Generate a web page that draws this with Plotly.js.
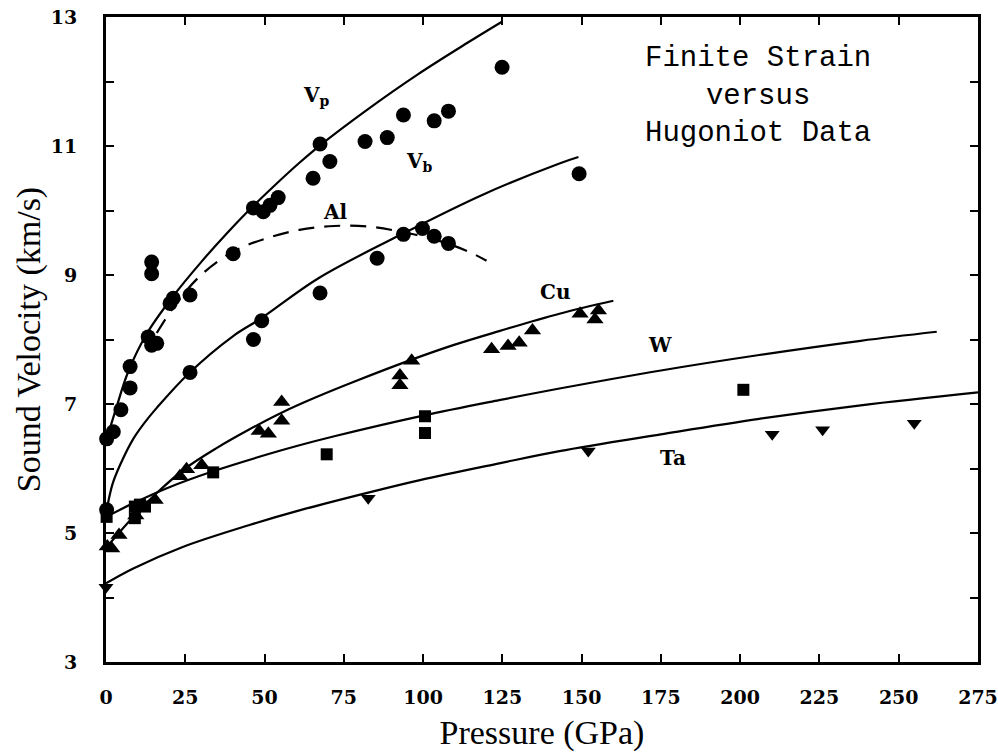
<!DOCTYPE html>
<html>
<head>
<meta charset="utf-8">
<script src="https://cdn.plot.ly/plotly-3.0.1.min.js"></script>
<style>html,body{margin:0;padding:0;background:#fff;}#chart{width:998px;height:756px;}</style>
</head>
<body>
<div id="chart"></div>
<script>
// ---- Finite strain curves (Pressure GPa, velocity km/s) ----
const vpCurveP = [0, 3, 7, 13, 21, 30, 38, 45, 53, 61, 68, 82, 98, 114, 125];
const vpCurveV = [6.42, 6.9, 7.5, 8.1, 8.66, 9.2, 9.64, 10.0, 10.38, 10.74, 11.03, 11.55, 12.1, 12.6, 12.93];

const vbCurveP = [0, 2, 4.4, 8.6, 12, 16, 26, 40, 49, 67, 94, 119, 143, 149];
const vbCurveV = [5.3, 5.75, 6.05, 6.46, 6.7, 6.94, 7.47, 8.05, 8.33, 8.95, 9.65, 10.25, 10.73, 10.83];

const alHugP = [16, 22, 30, 40, 50, 61, 72, 83, 93, 103, 114, 120];
const alHugV = [8.1, 8.55, 9.0, 9.36, 9.56, 9.7, 9.76, 9.75, 9.67, 9.56, 9.37, 9.22];

const cuCurveP = [0, 4.4, 10.7, 16, 25, 35, 45, 56, 66, 79, 96, 110, 124, 143, 160];
const cuCurveV = [4.77, 5.02, 5.36, 5.62, 6.0, 6.32, 6.6, 6.88, 7.1, 7.36, 7.68, 7.92, 8.13, 8.4, 8.6];

const wCurveP = [0, 8.6, 19, 34, 51, 61, 72, 100, 124, 143, 175, 206, 238, 262];
const wCurveV = [5.25, 5.46, 5.69, 5.96, 6.22, 6.36, 6.5, 6.82, 7.06, 7.24, 7.52, 7.76, 7.98, 8.12];

const taCurveP = [0, 8.6, 24, 45, 61, 83, 99, 124, 143, 175, 206, 238, 275];
const taCurveV = [4.22, 4.45, 4.78, 5.12, 5.35, 5.63, 5.82, 6.08, 6.27, 6.53, 6.77, 6.98, 7.18];

// ---- Hugoniot data points ----
const alDataP = [0.2, 2.3, 4.7, 7.6, 7.6, 13.3, 16.0, 14.4, 20.2, 21.2, 26.5, 14.4, 14.4, 40.1, 46.5, 49.6, 51.7, 54.3, 65.3, 70.6, 67.5, 81.7, 88.7, 93.8, 103.5, 108, 124.9, 149.2,
                 0.2, 26.5, 46.5, 49.1, 67.5, 85.5, 93.8, 99.8, 103.5, 108];
const alDataV = [6.46, 6.57, 6.91, 7.25, 7.58, 8.04, 7.94, 7.91, 8.56, 8.64, 8.69, 9.2, 9.02, 9.33, 10.04, 9.98, 10.08, 10.2, 10.5, 10.76, 11.03, 11.07, 11.13, 11.48, 11.39, 11.54, 12.22, 10.57,
                 5.36, 7.49, 8.0, 8.29, 8.72, 9.26, 9.63, 9.72, 9.6, 9.49];

const cuDataP = [0.4, 1.8, 4.1, 9.4, 15.5, 23.3, 25.4, 30.2, 48.3, 51.2, 55.4, 55.4, 92.7, 92.7, 96.4, 121.6, 126.8, 130.3, 134.5, 149.5, 155.3, 154.2];
const cuDataV = [4.79, 4.76, 4.97, 5.27, 5.51, 5.88, 5.99, 6.05, 6.58, 6.54, 6.74, 7.03, 7.29, 7.44, 7.67, 7.85, 7.9, 7.95, 8.14, 8.4, 8.45, 8.31];

const wDataP = [0.2, 9.1, 10.7, 9.1, 12.3, 33.8, 69.6, 100.6, 100.6, 201];
const wDataV = [5.25, 5.41, 5.44, 5.23, 5.41, 5.94, 6.22, 6.81, 6.55, 7.22];

const taDataP = [0, 82.7, 152.1, 210.1, 226, 254.9];
const taDataV = [4.16, 5.54, 6.27, 6.53, 6.6, 6.7];

// ---- Axis ticks and labels ----
const xTicks = [0, 25, 50, 75, 100, 125, 150, 175, 200, 225, 250, 275];
const yTicks = [3, 5, 7, 9, 11, 13];
const titleText = 'Finite Strain<br>versus<br>Hugoniot Data';
const curveLabels = ['V<sub>p</sub>', 'Al', 'V<sub>b</sub>', 'Cu', 'W', 'Ta'];
const curveLabelP = [66.5, 72.5, 99, 141.6, 174.7, 178.8];
const curveLabelV = [11.78, 9.98, 10.75, 8.74, 7.92, 6.16];

const serif = 'DejaVu Serif';
const titleSerif = 'Liberation Serif';
const lineStyle = {color: '#000', width: 2.2, shape: 'spline', smoothing: 1};

const traces = [
  {x: vpCurveP, y: vpCurveV, mode: 'lines', line: lineStyle},
  {x: vbCurveP, y: vbCurveV, mode: 'lines', line: lineStyle},
  {x: alHugP, y: alHugV, mode: 'lines', line: Object.assign({}, lineStyle, {dash: '16px,10px'})},
  {x: cuCurveP, y: cuCurveV, mode: 'lines', line: lineStyle},
  {x: wCurveP, y: wCurveV, mode: 'lines', line: lineStyle},
  {x: taCurveP, y: taCurveV, mode: 'lines', line: lineStyle},
  {x: alDataP, y: alDataV, mode: 'markers', marker: {symbol: 'circle', size: 15, color: '#000'}, cliponaxis: false},
  {x: cuDataP, y: cuDataV, mode: 'markers', marker: {symbol: 'triangle-up', size: 15, color: '#000'}, cliponaxis: false},
  {x: wDataP, y: wDataV, mode: 'markers', marker: {symbol: 'square', size: 12, color: '#000'}, cliponaxis: false},
  {x: taDataP, y: taDataV, mode: 'markers', marker: {symbol: 'triangle-down', size: 13, color: '#000'}, cliponaxis: false}
];

const annotations = curveLabels.map((t, i) => ({
  x: curveLabelP[i], y: curveLabelV[i], text: '<b>' + t + '</b>', showarrow: false,
  xanchor: 'center', yanchor: 'middle',
  font: {family: serif, size: 20, color: '#000'}
}));
annotations.push({
  x: 0.748, y: 0.877, xref: 'paper', yref: 'paper', xanchor: 'center', yanchor: 'middle',
  text: titleText, showarrow: false,
  align: 'center', font: {family: 'Liberation Mono', size: 29, color: '#000'}
});

const layout = {
  width: 998, height: 756,
  margin: {l: 106, r: 20, t: 17, b: 94},
  paper_bgcolor: '#fff', plot_bgcolor: '#fff',
  showlegend: false,
  xaxis: {
    range: [0, 275], tickvals: xTicks, ticks: 'inside', ticklen: 8, tickwidth: 2, tickcolor: '#000',
    showline: true, linewidth: 3, linecolor: '#000', mirror: 'ticks', showgrid: false, zeroline: false,
    ticklabelstandoff: 16,
    tickfont: {family: serif, size: 19, color: '#000', weight: 'bold'},
    title: {text: 'Pressure (GPa)', font: {family: titleSerif, size: 34, color: '#000'}, standoff: 14}
  },
  yaxis: {
    range: [3, 13], tickvals: yTicks, ticks: 'inside', ticklen: 8, tickwidth: 2, tickcolor: '#000',
    minor: {dtick: 1, ticks: 'inside', ticklen: 8, tickwidth: 2, tickcolor: '#000', showgrid: false},
    showline: true, linewidth: 3, linecolor: '#000', mirror: 'ticks', showgrid: false, zeroline: false,
    ticklabelstandoff: 22,
    tickfont: {family: serif, size: 19, color: '#000', weight: 'bold'},
    title: {text: 'Sound Velocity (km/s)', font: {family: titleSerif, size: 34, color: '#000'}, standoff: 0}
  },
  annotations: annotations
};

Plotly.newPlot('chart', traces, layout, {displayModeBar: false, staticPlot: true});
</script>
</body>
</html>
